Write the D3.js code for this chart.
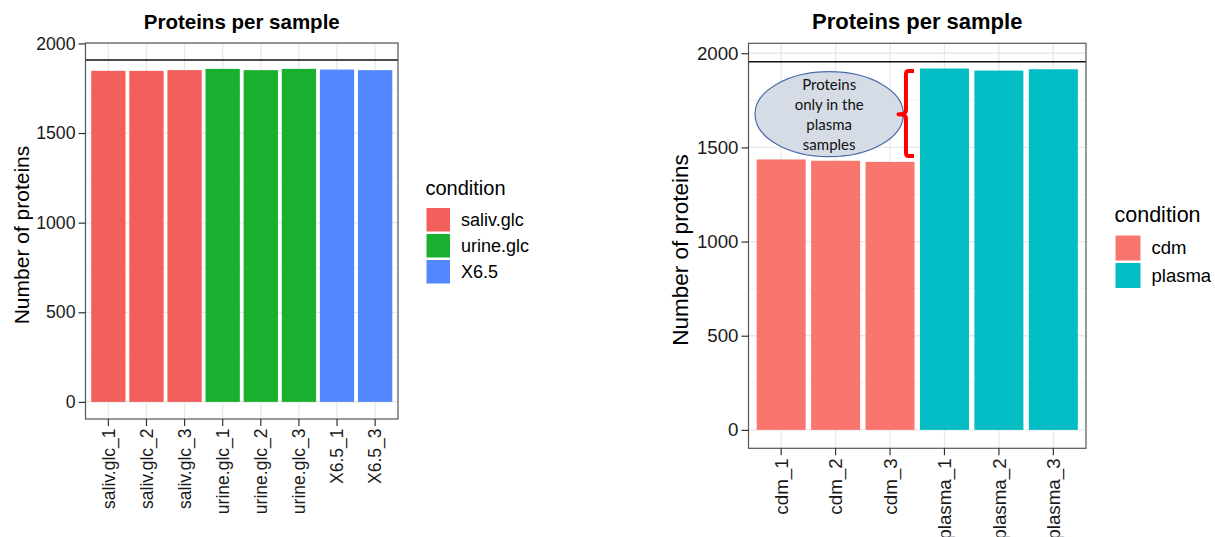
<!DOCTYPE html>
<html>
<head>
<meta charset="utf-8">
<script src="https://cdn.jsdelivr.net/npm/d3@7"></script>
<style>
  html, body { margin: 0; padding: 0; background: #fff; }
  svg { display: block; }
  text { font-family: "Liberation Sans", Arial, Helvetica, sans-serif; }
</style>
</head>
<body>
<svg id="chart" width="1215" height="537"></svg>
<script>
// ---- Left chart: proteins identified per sample (three conditions) ----
const leftSamples = ["saliv.glc_1", "saliv.glc_2", "saliv.glc_3", "urine.glc_1", "urine.glc_2", "urine.glc_3", "X6.5_1", "X6.5_3"];
const leftCounts = [1847, 1847, 1851, 1858, 1851, 1858, 1854, 1851];
const leftConditions = ["saliv.glc", "saliv.glc", "saliv.glc", "urine.glc", "urine.glc", "urine.glc", "X6.5", "X6.5"];
const leftLevels = ["saliv.glc", "urine.glc", "X6.5"];
const leftReference = 1907;

// ---- Right chart: proteins identified per sample (cdm vs plasma) ----
const rightSamples = ["cdm_1", "cdm_2", "cdm_3", "plasma_1", "plasma_2", "plasma_3"];
const rightCounts = [1436, 1429, 1423, 1919, 1908, 1915];
const rightConditions = ["cdm", "cdm", "cdm", "plasma", "plasma", "plasma"];
const rightLevels = ["cdm", "plasma"];
const rightReference = 1955;

const yTicks = [0, 500, 1000, 1500, 2000];
const yMinorTicks = [250, 750, 1250, 1750];
const chartTitle = "Proteins per sample";
const yTitle = "Number of proteins";
const legendTitle = "condition";
const calloutLines = ["Proteins", "only in the", "plasma", "samples"];

const leftPalette = ["#F35F5B", "#1AB02F", "#5387FF"];
const rightPalette = ["#F8766D", "#02BEC4"];

const svg = d3.select("#chart");

function drawPanel(cfg) {
  const g = svg.append("g");
  const x = d3.scaleBand()
    .domain(cfg.samples)
    .range([cfg.left, cfg.right])
    .paddingInner(0.1)
    .paddingOuter(0.15);
  // ggplot-style 5% expansion around [0, reference line]
  const pad = cfg.reference * 0.05;
  const y = d3.scaleLinear()
    .domain([-pad, cfg.reference + pad])
    .range([cfg.bottom, cfg.top]);
  const color = d3.scaleOrdinal().domain(cfg.levels).range(cfg.palette);

  // grid
  const grid = g.append("g");
  grid.selectAll("line.minor").data(yMinorTicks.filter(v => v >= y.domain()[0] && v <= y.domain()[1]))
    .join("line").attr("class", "minor")
    .attr("x1", cfg.left).attr("x2", cfg.right)
    .attr("y1", d => y(d)).attr("y2", d => y(d))
    .attr("stroke", "#ededed").attr("stroke-width", 0.7);
  grid.selectAll("line.majorY").data(yTicks.filter(v => v >= y.domain()[0] && v <= y.domain()[1]))
    .join("line").attr("class", "majorY")
    .attr("x1", cfg.left).attr("x2", cfg.right)
    .attr("y1", d => y(d)).attr("y2", d => y(d))
    .attr("stroke", "#e8e8e8").attr("stroke-width", 1.3);
  grid.selectAll("line.majorX").data(cfg.samples)
    .join("line").attr("class", "majorX")
    .attr("x1", d => x(d) + x.bandwidth() / 2).attr("x2", d => x(d) + x.bandwidth() / 2)
    .attr("y1", cfg.top).attr("y2", cfg.bottom)
    .attr("stroke", "#e8e8e8").attr("stroke-width", 1.3);

  // bars
  g.append("g").selectAll("rect").data(cfg.samples)
    .join("rect")
    .attr("x", d => x(d))
    .attr("width", x.bandwidth())
    .attr("y", (d, i) => y(cfg.counts[i]))
    .attr("height", (d, i) => y(0) - y(cfg.counts[i]))
    .attr("fill", (d, i) => color(cfg.conditions[i]));

  // reference line
  g.append("line")
    .attr("x1", cfg.left).attr("x2", cfg.right)
    .attr("y1", y(cfg.reference)).attr("y2", y(cfg.reference))
    .attr("stroke", "#111").attr("stroke-width", 1.5);

  // panel border
  g.append("rect")
    .attr("x", cfg.left).attr("y", cfg.top)
    .attr("width", cfg.right - cfg.left).attr("height", cfg.bottom - cfg.top)
    .attr("fill", "none").attr("stroke", "#555").attr("stroke-width", 1.2);

  // y axis
  const ya = g.append("g").attr("transform", `translate(${cfg.left},0)`)
    .call(d3.axisLeft(y).tickValues(yTicks).tickSize(7).tickPadding(3).tickFormat(d3.format("d")));
  ya.select(".domain").remove();
  ya.selectAll(".tick line").attr("stroke", "#333").attr("stroke-width", 1.2);
  ya.selectAll(".tick text").attr("fill", "#1a1a1a").style("font-size", cfg.tickFont + "px");

  // x axis
  const xa = g.append("g").attr("transform", `translate(0,${cfg.bottom})`)
    .call(d3.axisBottom(x).tickSize(7).tickPadding(3));
  xa.select(".domain").remove();
  xa.selectAll(".tick line").attr("stroke", "#333").attr("stroke-width", 1.2);
  xa.selectAll(".tick text")
    .attr("fill", "#1a1a1a")
    .style("font-size", cfg.xTickFont + "px")
    .attr("text-anchor", "end")
    .attr("transform", "rotate(-90)")
    .attr("x", -cfg.xLabelGap)
    .attr("y", 0)
    .attr("dy", "0.36em");

  // title
  g.append("text")
    .attr("x", (cfg.left + cfg.right) / 2).attr("y", 29)
    .attr("text-anchor", "middle")
    .style("font-size", cfg.titleFont + "px").style("font-weight", "bold")
    .attr("fill", "#000")
    .text(chartTitle);

  // y title
  g.append("text")
    .attr("transform", `translate(${cfg.yTitleX},${cfg.yTitleY}) rotate(-90)`)
    .attr("text-anchor", "middle")
    .style("font-size", cfg.yTitleFont + "px")
    .attr("fill", "#000")
    .text(yTitle);

  // legend
  const lg = g.append("g").attr("transform", `translate(${cfg.legendX},${cfg.legendY})`);
  lg.append("text").attr("x", 0).attr("y", 0)
    .style("font-size", cfg.legendTitleFont + "px").attr("fill", "#000")
    .text(legendTitle);
  const items = lg.selectAll("g.item").data(cfg.levels).join("g").attr("class", "item")
    .attr("transform", (d, i) => `translate(0,${cfg.keyOffset + i * cfg.keyStep})`);
  items.append("rect")
    .attr("x", 1).attr("y", 0)
    .attr("width", cfg.keySize).attr("height", cfg.keySize)
    .attr("fill", d => color(d));
  items.append("text")
    .attr("x", cfg.keySize + 12).attr("y", cfg.keySize / 2)
    .attr("dy", "0.35em")
    .style("font-size", cfg.legendFont + "px").attr("fill", "#000")
    .text(d => d);

  return { x, y };
}

drawPanel({
  samples: leftSamples, counts: leftCounts, conditions: leftConditions,
  levels: leftLevels, palette: leftPalette, reference: leftReference,
  left: 85.5, right: 398, top: 43, bottom: 419,
  tickFont: 17.7, xTickFont: 17.5, xLabelGap: 9.5, titleFont: 20.5,
  yTitleFont: 21, yTitleX: 28.5, yTitleY: 235,
  legendX: 425.5, legendY: 195, legendTitleFont: 20, legendFont: 18,
  keyOffset: 13, keySize: 23.5, keyStep: 26
});

const right = drawPanel({
  samples: rightSamples, counts: rightCounts, conditions: rightConditions,
  levels: rightLevels, palette: rightPalette, reference: rightReference,
  left: 748.5, right: 1086, top: 43.3, bottom: 448.3,
  tickFont: 18.7, xTickFont: 18.8, xLabelGap: 10, titleFont: 22,
  yTitleFont: 22.5, yTitleX: 688, yTitleY: 250,
  legendX: 1114.5, legendY: 221.5, legendTitleFont: 21.5, legendFont: 18.5,
  keyOffset: 14, keySize: 25, keyStep: 27.5
});

// Callout: proteins seen only in the plasma samples
const callout = svg.append("g");
const cx = 829.2, cy = 114.2;
callout.append("ellipse")
  .attr("cx", cx).attr("cy", cy).attr("rx", 74.2).attr("ry", 42.5)
  .attr("fill", "#D6DCE5").attr("stroke", "#4A6BA8").attr("stroke-width", 1.2);
callout.selectAll("text").data(calloutLines).join("text")
  .attr("x", cx).attr("y", (d, i) => 90 + i * 20)
  .attr("text-anchor", "middle")
  .style("font-family", "Lato, 'Open Sans', sans-serif")
  .style("font-size", "15px")
  .attr("fill", "#111")
  .text(d => d);

// Bracket spanning the gap between cdm and plasma counts
const bx = right.x("plasma_1") - 14;
const bTop = 71, bBot = 156, bMid = 114.3;
callout.append("path")
  .attr("d", `M${bx + 8},${bTop} L${bx + 3},${bTop} Q${bx},${bTop} ${bx},${bTop + 3}
              L${bx},${bMid - 4} Q${bx},${bMid} ${bx - 7.5},${bMid}
              Q${bx},${bMid} ${bx},${bMid + 4}
              L${bx},${bBot - 3} Q${bx},${bBot} ${bx + 3},${bBot} L${bx + 8},${bBot}`)
  .attr("fill", "none").attr("stroke", "#FF0000").attr("stroke-width", 4)
  .attr("stroke-linejoin", "round");
</script>
</body>
</html>
